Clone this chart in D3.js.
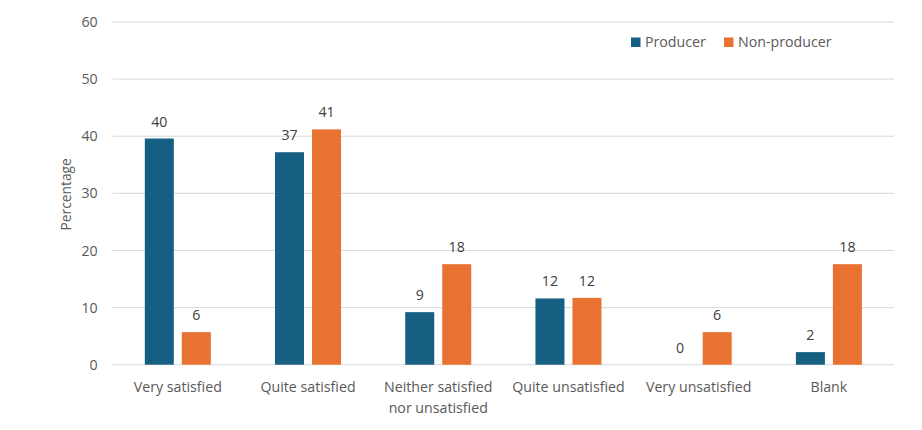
<!DOCTYPE html>
<html><head><meta charset="utf-8">
<script src="https://cdn.jsdelivr.net/npm/d3@7"></script>
<style>body{margin:0;background:#fff;}svg{display:block;font-family:"Open Sans",sans-serif;}</style>
</head><body><svg id="c" width="922" height="430"></svg>
<script>
const categories = [["Very satisfied"],["Quite satisfied"],["Neither satisfied","nor unsatisfied"],["Quite unsatisfied"],["Very unsatisfied"],["Blank"]];
const seriesNames = ["Producer","Non-producer"];
const producer = [39.6, 37.2, 9.2, 11.6, 0, 2.2];
const nonProducer = [5.7, 41.2, 17.6, 11.7, 5.7, 17.6];
const yTicks = [0,10,20,30,40,50,60];
const colors = ["#156082","#E97132"];

(function(){
const svg = d3.select("#c");
const mLeft = 112.7, mRight = 894, mTop = 22, mBottom = 364.7;
const fs = 14.2;
const catKeys = categories.map(c => c.join(" "));
const x0 = d3.scaleBand().domain(catKeys).range([mLeft, mRight]).padding(0);
const x1 = d3.scaleBand().domain(seriesNames).range([0, 66]).paddingInner(8/37);
const y = d3.scaleLinear().domain([0,60]).range([mBottom, mTop]);

svg.append("g").selectAll("line").data(yTicks).join("line")
  .attr("x1", mLeft).attr("x2", mRight)
  .attr("y1", d => y(d)).attr("y2", d => y(d))
  .attr("stroke", "#D9D9D9").attr("stroke-width", 1);

const yAxis = d3.axisLeft(y).tickValues(yTicks).tickSize(0).tickPadding(15);
const ga = svg.append("g").attr("transform", `translate(${mLeft},0)`).call(yAxis);
ga.select(".domain").remove();
ga.selectAll("text").attr("font-size", fs).attr("fill", "#595959").attr("font-family", '"Open Sans",sans-serif');

svg.append("text").attr("transform", `translate(70.5,${(mTop+mBottom)/2+1}) rotate(-90)`)
  .attr("text-anchor","middle").attr("font-size", 13.8).attr("fill","#595959").text("Percentage");

const data = [producer, nonProducer];
const g = svg.append("g");
seriesNames.forEach((s, si) => {
  const vals = data[si];
  g.append("g").selectAll("rect").data(vals).join("rect")
    .attr("x", (d,i) => x0(catKeys[i]) + x0.bandwidth()/2 - 33 + x1(s))
    .attr("width", x1.bandwidth())
    .attr("y", d => y(d))
    .attr("height", d => mBottom - y(d))
    .attr("fill", colors[si]);
  g.append("g").selectAll("text").data(vals).join("text")
    .attr("x", (d,i) => x0(catKeys[i]) + x0.bandwidth()/2 - 33 + x1(s) + x1.bandwidth()/2)
    .attr("y", d => y(d) - 12)
    .attr("text-anchor","middle").attr("font-size", fs).attr("fill","#404040")
    .text(d => d3.format(".0f")(d));
});

const xl = svg.append("g").selectAll("text").data(categories).join("text")
  .attr("x", (d,i) => x0(catKeys[i]) + x0.bandwidth()/2)
  .attr("y", 391.8)
  .attr("text-anchor","middle").attr("font-size", fs).attr("fill","#595959");
xl.each(function(d){
  const t = d3.select(this);
  d.forEach((line, li) => {
    t.append("tspan").attr("x", t.attr("x")).attr("dy", li === 0 ? 0 : 20.7).text(line);
  });
});

const legX = [631, 724];
seriesNames.forEach((s, si) => {
  svg.append("rect").attr("x", legX[si]).attr("y", 37.5).attr("width", 9.5).attr("height", 9.5).attr("fill", colors[si]);
  svg.append("text").attr("x", legX[si] + 14).attr("y", 47.3).attr("font-size", fs).attr("fill","#595959").text(s);
});
})();
</script></body></html>
